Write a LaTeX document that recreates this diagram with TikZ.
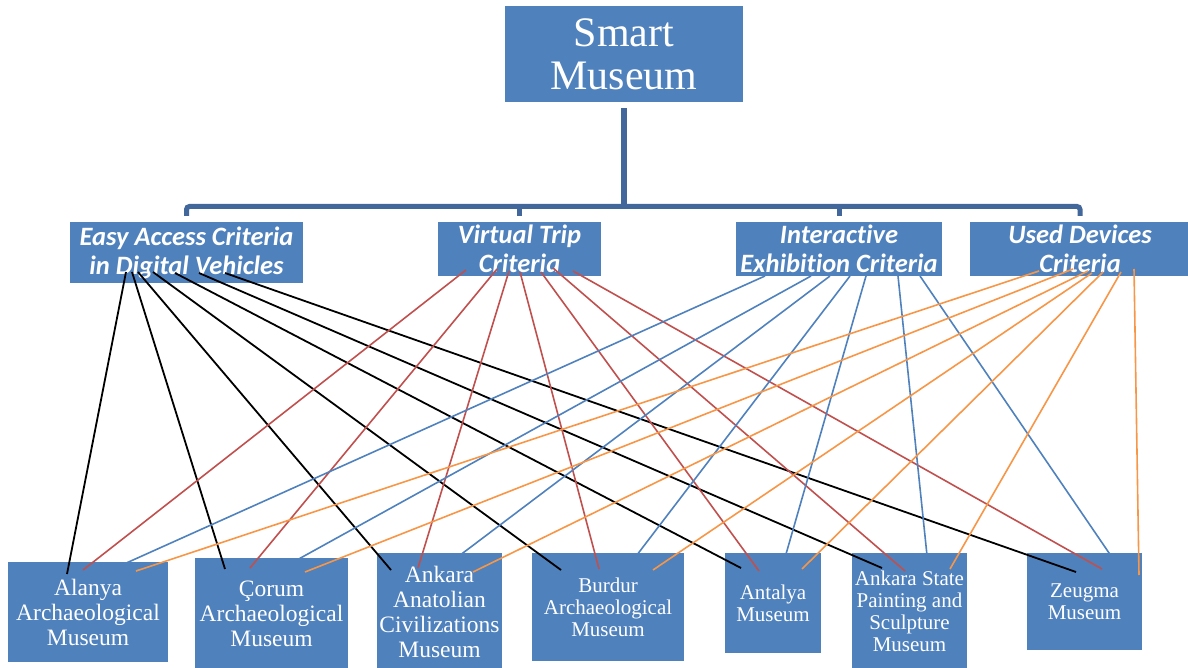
\documentclass[tikz,border=0pt]{standalone}
\usepackage{fontspec}
\setmainfont{Liberation Serif}
\newfontfamily\critfont[Ligatures=NoCommon]{Carlito}
\definecolor{boxblue}{RGB}{79,129,189}
\definecolor{barblue}{RGB}{65,103,155}
\definecolor{lred}{RGB}{192,80,77}
\definecolor{lblue}{RGB}{79,129,189}
\definecolor{lorange}{RGB}{247,150,70}
\tikzset{
  box/.style={fill=boxblue, inner sep=0pt, align=center, text=white},
  topbox/.style={box, font=\fontsize{42}{43}\selectfont},
  crit/.style={box, font=\critfont\bfseries\itshape\fontsize{26.5}{29}\selectfont},
  mus/.style={box, font=\fontsize{23.5}{25}\selectfont},
  muss/.style={box, font=\fontsize{21}{22}\selectfont},
  barline/.style={draw=barblue, line width=5pt, rounded corners=3pt},
  stemline/.style={draw=barblue, line width=6pt},
  blk/.style={draw=black, line width=1.8pt},
  rd/.style={draw=lred, line width=1.6pt},
  bl/.style={draw=lblue, line width=1.6pt},
  og/.style={draw=lorange, line width=1.6pt},
}
\begin{document}
\begin{tikzpicture}[x=1pt,y=-1pt]
\useasboundingbox (0,0) rectangle (1188,668);
% top
\node[topbox, minimum width=238, minimum height=96] (top) at (624,54) {Smart\\Museum};
% criteria
\node[crit, minimum width=233, minimum height=61] (ea) at (186.5,252.5) {Easy Access Criteria\\in Digital Vehicles};
\node[crit, minimum width=163, minimum height=54] (vt) at (519.5,249) {Virtual Trip\\Criteria};
\node[crit, minimum width=206, minimum height=54] (ie) at (839,249) {Interactive\\Exhibition Criteria};
\node[crit, minimum width=220, minimum height=54] (ud) at (1080,249) {Used Devices\\Criteria};
% museums
\node[mus, minimum width=160, minimum height=100] (al) at (88,612) {Alanya\\Archaeological\\Museum};
\node[mus, minimum width=153, minimum height=112] (co) at (271.5,614) {Çorum\\Archaeological\\Museum};
\node[mus, minimum width=125, minimum height=117] (aa) at (439.5,611.5) {Ankara\\Anatolian\\Civilizations\\Museum};
\node[muss, minimum width=152, minimum height=108] (bu) at (608,607) {Burdur\\Archaeological\\Museum};
\node[muss, minimum width=96, minimum height=100] (an) at (773,603) {Antalya\\Museum};
\node[muss, minimum width=115, minimum height=117] (as) at (909.5,611.5) {Ankara State\\Painting and\\Sculpture\\Museum};
\node[muss, minimum width=115, minimum height=97] (ze) at (1084.5,601.5) {Zeugma\\Museum};
% tree
\coordinate (bar) at (624,206.5);
\draw[stemline] ([yshift=-6pt]top.south) -- (bar);
\draw[barline] ([yshift=6pt]ea.north) -- (ea.north |- bar) -- (ud.north |- bar) -- ([yshift=6pt]ud.north);
\draw[barline] ([yshift=6pt]vt.north) -- (vt.north |- bar);
\draw[barline] ([yshift=6pt]ie.north) -- (ie.north |- bar);
% black lines
\draw[blk] ([shift={(-60.5,19.5)}]ea.center) -- ([shift={(-21,-38)}]al.center);
\draw[blk] ([shift={(-54.5,19.5)}]ea.center) -- ([shift={(-46.5,-45)}]co.center);
\draw[blk] ([shift={(-48.5,19.5)}]ea.center) -- ([shift={(-48.5,-41.5)}]aa.center);
\draw[blk] ([shift={(-33.5,19.5)}]ea.center) -- ([shift={(-47,-37)}]bu.center);
\draw[blk] ([shift={(-11.5,20.5)}]ea.center) -- ([shift={(-32,-35)}]an.center);
\draw[blk] ([shift={(12.5,20.5)}]ea.center) -- ([shift={(-27.5,-43.5)}]as.center);
\draw[blk] ([shift={(38.5,20.5)}]ea.center) -- ([shift={(-8.5,-29.5)}]ze.center);
% red lines
\draw[rd] ([shift={(-53.5,21)}]vt.center) -- ([shift={(-5,-42)}]al.center);
\draw[rd] ([shift={(-22.5,20)}]vt.center) -- ([shift={(-21.5,-46)}]co.center);
\draw[rd] ([shift={(-10.5,22)}]vt.center) -- ([shift={(-21.5,-43.5)}]aa.center);
\draw[rd] ([shift={(0.5,23)}]vt.center) -- ([shift={(-9,-38)}]bu.center);
\draw[rd] ([shift={(21.5,23)}]vt.center) -- ([shift={(-14,-32)}]an.center);
\draw[rd] ([shift={(33.5,19)}]vt.center) -- ([shift={(-4.5,-40.5)}]as.center);
\draw[rd] ([shift={(53.5,22)}]vt.center) -- ([shift={(17.5,-32.5)}]ze.center);
% blue lines
\draw[bl] ([shift={(-74,27)}]ie.center) -- ([shift={(25,-43)}]al.center);
\draw[bl] ([shift={(-28,27)}]ie.center) -- ([shift={(5.5,-43)}]co.center);
\draw[bl] ([shift={(-9,27)}]ie.center) -- ([shift={(7.5,-46.5)}]aa.center);
\draw[bl] ([shift={(11,27)}]ie.center) -- ([shift={(19,-39)}]bu.center);
\draw[bl] ([shift={(27,27)}]ie.center) -- ([shift={(9,-35)}]an.center);
\draw[bl] ([shift={(59,27)}]ie.center) -- ([shift={(18.5,-46.5)}]as.center);
\draw[bl] ([shift={(81,27)}]ie.center) -- ([shift={(37.5,-29.5)}]ze.center);
% orange lines
\draw[og] ([shift={(-41,22)}]ud.center) -- ([shift={(48,-41)}]al.center);
\draw[og] ([shift={(-7,20)}]ud.center) -- ([shift={(33.5,-42)}]co.center);
\draw[og] ([shift={(8,22)}]ud.center) -- ([shift={(33.5,-39.5)}]aa.center);
\draw[og] ([shift={(12,24)}]ud.center) -- ([shift={(45,-37)}]bu.center);
\draw[og] ([shift={(23,23)}]ud.center) -- ([shift={(29,-34)}]an.center);
\draw[og] ([shift={(41,23)}]ud.center) -- ([shift={(40.5,-42.5)}]as.center);
\draw[og] ([shift={(54,20)}]ud.center) -- ([shift={(54.5,-26.5)}]ze.center);
\end{tikzpicture}
\end{document}
